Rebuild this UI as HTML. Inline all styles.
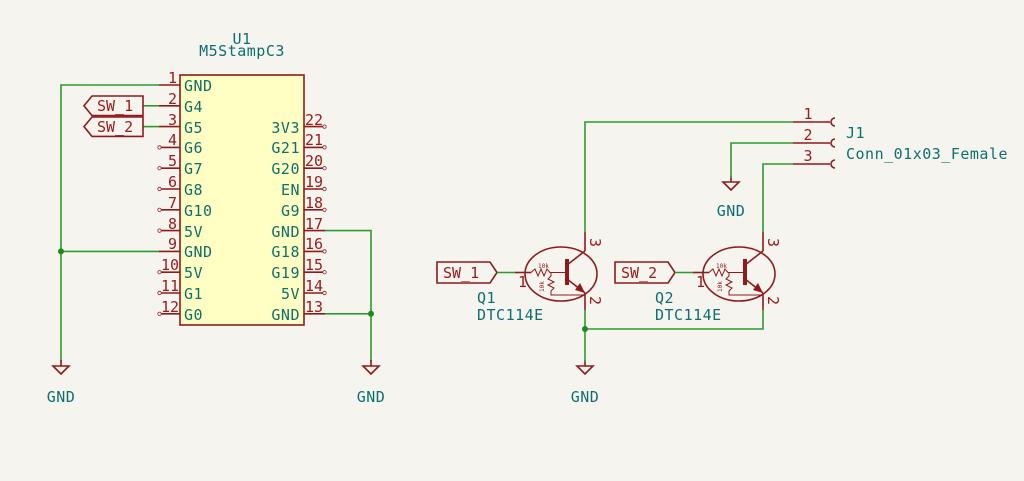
<!DOCTYPE html>
<html><head><meta charset="utf-8"><style>
html,body{margin:0;padding:0;background:#f5f4ef;}
svg{display:block}
text{font-family:"DejaVu Sans Mono","Liberation Mono",monospace;}
.n{fill:#0e6f6f;font-size:15px;letter-spacing:0.5px}
.p{fill:#9b1a1a;font-size:15px}
.w{stroke:#2c9b2c;stroke-width:1.6;fill:none}
.r{stroke:#8e1b1b;stroke-width:1.6;fill:none}
</style></head><body>
<svg width="1024" height="481" viewBox="0 0 1024 481" xmlns="http://www.w3.org/2000/svg">
<rect width="1024" height="481" fill="#f5f4ef"/>
<text class="n" x="242" y="44" text-anchor="middle">U1</text>
<text class="n" x="242" y="56" text-anchor="middle" dy="0">M5StampC3</text>
<rect x="180" y="75" width="124" height="250" fill="#ffffc3" stroke="#8e1b1b" stroke-width="1.6"/>
<g class="r">
<line x1="159" y1="85" x2="180" y2="85"/><line x1="159" y1="105.8" x2="180" y2="105.8"/><line x1="159" y1="126.6" x2="180" y2="126.6"/>
<line x1="161" y1="147.4" x2="180" y2="147.4"/><line x1="161" y1="168.2" x2="180" y2="168.2"/><line x1="161" y1="189" x2="180" y2="189"/>
<line x1="161" y1="209.8" x2="180" y2="209.8"/><line x1="161" y1="230.6" x2="180" y2="230.6"/><line x1="159" y1="251.4" x2="180" y2="251.4"/>
<line x1="161" y1="272.2" x2="180" y2="272.2"/><line x1="161" y1="293" x2="180" y2="293"/><line x1="161" y1="313.8" x2="180" y2="313.8"/>
<line x1="304" y1="126.6" x2="323" y2="126.6"/><line x1="304" y1="147.4" x2="323" y2="147.4"/><line x1="304" y1="168.2" x2="323" y2="168.2"/>
<line x1="304" y1="189" x2="323" y2="189"/><line x1="304" y1="209.8" x2="323" y2="209.8"/><line x1="304" y1="230.6" x2="325" y2="230.6"/>
<line x1="304" y1="251.4" x2="323" y2="251.4"/><line x1="304" y1="272.2" x2="323" y2="272.2"/><line x1="304" y1="293" x2="323" y2="293"/>
<line x1="304" y1="313.8" x2="325" y2="313.8"/>
</g>
<g fill="none" stroke="#9b1a1a" stroke-width="0.8">
<circle cx="159.5" cy="147.4" r="1.7"/><circle cx="159.5" cy="168.2" r="1.7"/><circle cx="159.5" cy="189" r="1.7"/><circle cx="159.5" cy="209.8" r="1.7"/><circle cx="159.5" cy="230.6" r="1.7"/><circle cx="159.5" cy="272.2" r="1.7"/><circle cx="159.5" cy="293" r="1.7"/><circle cx="159.5" cy="313.8" r="1.7"/>
<circle cx="324.5" cy="126.6" r="1.7"/><circle cx="324.5" cy="147.4" r="1.7"/><circle cx="324.5" cy="168.2" r="1.7"/><circle cx="324.5" cy="189" r="1.7"/><circle cx="324.5" cy="209.8" r="1.7"/><circle cx="324.5" cy="251.4" r="1.7"/><circle cx="324.5" cy="272.2" r="1.7"/><circle cx="324.5" cy="293" r="1.7"/>
</g>
<g class="p" text-anchor="end">
<text x="177" y="83">1</text><text x="177" y="104">2</text><text x="177" y="125">3</text><text x="177" y="145">4</text><text x="177" y="166">5</text><text x="177" y="187">6</text><text x="177" y="208">7</text><text x="177" y="229">8</text><text x="177" y="249">9</text><text x="179" y="270">10</text><text x="179" y="291">11</text><text x="179" y="312">12</text>
</g>
<g class="p">
<text x="305" y="125">22</text><text x="305" y="145">21</text><text x="305" y="166">20</text><text x="305" y="187">19</text><text x="305" y="208">18</text><text x="305" y="229">17</text><text x="305" y="249">16</text><text x="305" y="270">15</text><text x="305" y="291">14</text><text x="305" y="312">13</text>
</g>
<g class="n">
<text x="184" y="91">GND</text><text x="184" y="112">G4</text><text x="184" y="133">G5</text><text x="184" y="153">G6</text><text x="184" y="174">G7</text><text x="184" y="195">G8</text><text x="184" y="216">G10</text><text x="184" y="237">5V</text><text x="184" y="257">GND</text><text x="184" y="278">5V</text><text x="184" y="299">G1</text><text x="184" y="320">G0</text>
</g>
<g class="n" text-anchor="end">
<text x="300" y="133">3V3</text><text x="300" y="153">G21</text><text x="300" y="174">G20</text><text x="300" y="195">EN</text><text x="300" y="216">G9</text><text x="300" y="237">GND</text><text x="300" y="257">G18</text><text x="300" y="278">G19</text><text x="300" y="299">5V</text><text x="300" y="320">GND</text>
</g>
<polyline class="w" points="159,85 61,85 61,362"/>
<line class="w" x1="61" y1="251.4" x2="159" y2="251.4"/>
<circle cx="61" cy="251.4" r="3" fill="#1d8a1d"/>
<polyline class="w" points="325,230.6 371,230.6 371,362"/>
<line class="w" x1="325" y1="313.8" x2="371" y2="313.8"/>
<circle cx="371" cy="313.8" r="3" fill="#1d8a1d"/>
<line class="w" x1="143" y1="105.8" x2="159" y2="105.8"/>
<line class="w" x1="143" y1="126.6" x2="159" y2="126.6"/>
<polygon class="r" points="84,105.8 92,96 143,96 143,115.6 92,115.6"/>
<polygon class="r" points="84,126.6 92,117 143,117 143,136.4 92,136.4"/>
<text class="p" x="97" y="111">SW_1</text><text class="p" x="97" y="132">SW_2</text>
<g class="r">
<line x1="61" y1="360" x2="61" y2="366"/><polygon points="53,366 69,366 61,374"/>
<line x1="371" y1="360" x2="371" y2="366"/><polygon points="363,366 379,366 371,374"/>
<line x1="585" y1="360" x2="585" y2="366"/><polygon points="577,366 593,366 585,374"/>
<line x1="731" y1="176" x2="731" y2="182"/><polygon points="723,182 739,182 731,190"/>
</g>
<g class="n" text-anchor="middle">
<text x="61" y="402">GND</text><text x="371" y="402">GND</text><text x="585" y="402">GND</text><text x="731" y="216">GND</text>
</g>
<polyline class="w" points="585,232 585,122 793,122"/>
<polyline class="w" points="793,143 731,143 731,178"/>
<polyline class="w" points="763,232 763,164 793,164"/>
<polyline class="w" points="585,310 585,362"/>
<polyline class="w" points="763,310 763,329 585,329"/>
<circle cx="585" cy="329" r="3" fill="#1d8a1d"/>
<g class="r">
<line x1="793" y1="122" x2="830" y2="122"/><line x1="793" y1="143" x2="830" y2="143"/><line x1="793" y1="164" x2="830" y2="164"/>
<path d="M835,118 A4,4 0 0 0 835,126"/><path d="M835,139 A4,4 0 0 0 835,147"/><path d="M835,160 A4,4 0 0 0 835,168"/>
</g>
<g class="p" text-anchor="middle"><text x="808" y="119">1</text><text x="808" y="140">2</text><text x="808" y="161">3</text></g>
<text class="n" x="846" y="138">J1</text>
<text class="n" x="846" y="159">Conn_01x03_Female</text>
<g id="q1">
<polygon class="r" points="437,262 490,262 497,272.5 490,283 437,283"/>
<text class="p" x="443" y="278">SW_1</text>
<line class="w" x1="497" y1="272.5" x2="515" y2="272.5"/>
<g class="r">
<line x1="515" y1="272.5" x2="531" y2="272.5"/>
<ellipse cx="561" cy="274" rx="36" ry="27"/>
<line x1="585" y1="232" x2="585" y2="251"/>
<line x1="585" y1="293" x2="585" y2="310"/>
<line x1="567" y1="259" x2="567" y2="285" stroke-width="4"/>
<line x1="567" y1="265" x2="585" y2="251"/>
<line x1="567" y1="279" x2="585" y2="293"/>
<polyline points="531,272.5 535,269 538,276 541,269 544,276 547,269 550,272.5 567,272.5" stroke-width="1"/>
<polyline points="551,273 551,276 548,279 554,282 548,285 554,288 551,291 551,295 585,295" stroke-width="1"/>
</g>
<polygon points="585,293 575,290 580,283" fill="#8e1b1b"/>
<text x="538" y="268" fill="#8e1b1b" font-size="6">10k</text>
<text x="544" y="292" fill="#8e1b1b" font-size="6" transform="rotate(-90 544 292)">10k</text>
<text class="p" x="518" y="287">1</text>
<text class="p" x="590" y="238" transform="rotate(90 590 238)">3</text>
<text class="p" x="590" y="296" transform="rotate(90 590 296)">2</text>
<text class="n" x="477" y="303">Q1</text>
<text class="n" x="477" y="320">DTC114E</text>
</g>
<g transform="translate(178,0)">
<polygon class="r" points="437,262 490,262 497,272.5 490,283 437,283"/>
<text class="p" x="443" y="278">SW_2</text>
<line class="w" x1="497" y1="272.5" x2="515" y2="272.5"/>
<g class="r">
<line x1="515" y1="272.5" x2="531" y2="272.5"/>
<ellipse cx="561" cy="274" rx="36" ry="27"/>
<line x1="585" y1="232" x2="585" y2="251"/>
<line x1="585" y1="293" x2="585" y2="310"/>
<line x1="567" y1="259" x2="567" y2="285" stroke-width="4"/>
<line x1="567" y1="265" x2="585" y2="251"/>
<line x1="567" y1="279" x2="585" y2="293"/>
<polyline points="531,272.5 535,269 538,276 541,269 544,276 547,269 550,272.5 567,272.5" stroke-width="1"/>
<polyline points="551,273 551,276 548,279 554,282 548,285 554,288 551,291 551,295 585,295" stroke-width="1"/>
</g>
<polygon points="585,293 575,290 580,283" fill="#8e1b1b"/>
<text x="538" y="268" fill="#8e1b1b" font-size="6">10k</text>
<text x="544" y="292" fill="#8e1b1b" font-size="6" transform="rotate(-90 544 292)">10k</text>
<text class="p" x="518" y="287">1</text>
<text class="p" x="590" y="238" transform="rotate(90 590 238)">3</text>
<text class="p" x="590" y="296" transform="rotate(90 590 296)">2</text>
<text class="n" x="477" y="303">Q2</text>
<text class="n" x="477" y="320">DTC114E</text>
</g>
</svg>
</body></html>
